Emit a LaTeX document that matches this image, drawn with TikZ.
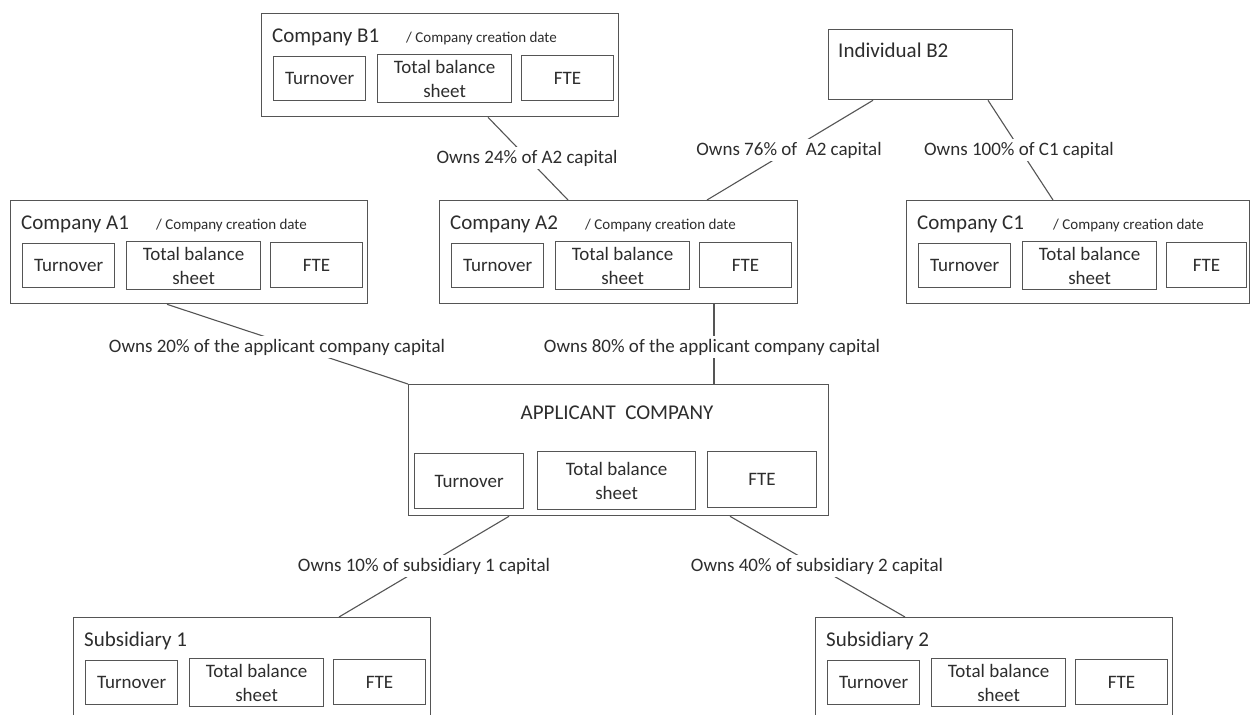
\documentclass[tikz,border=0pt]{standalone}
\usepackage{fontspec}
\setmainfont{Carlito}
\usetikzlibrary{calc}
\definecolor{boxline}{RGB}{85,85,85}
\definecolor{txt}{RGB}{45,45,45}
\tikzset{
  outerbox/.style={draw=boxline, line width=1.3pt, anchor=north west, inner sep=0pt},
  cellbox/.style={draw=boxline, line width=1.2pt, anchor=north west, inner sep=0pt, align=center, text=txt, font=\fontsize{19}{24}\selectfont},
  titletext/.style={anchor=base west, inner sep=0pt, text=txt, font=\fontsize{21}{24}\selectfont},
  datetext/.style={anchor=base west, inner sep=0pt, text=txt, font=\fontsize{15}{18}\selectfont},
  owns/.style={fill=white, inner sep=3pt, text=txt, font=\fontsize{19}{22}\selectfont},
  link/.style={draw=boxline, line width=1.1pt},
}
% #1 name, #2 left, #3 top, #4 title, #5 box width, #6 FTE width
\newcommand\firmbox[6]{%
  \node[outerbox, minimum width=#5pt, minimum height=103pt] (#1) at (#2,#3) {};
  \node[titletext] (#1-title) at (#2+11,#3+29) {#4};
  \node[cellbox, minimum width=92pt, minimum height=44pt] (#1-turn) at (#2+12,#3+43) {Turnover};
  \node[cellbox, minimum width=134pt, minimum height=48pt] (#1-tbs) at (#2+116,#3+41) {Total balance\\sheet};
  \node[cellbox, minimum width=#6pt, minimum height=45pt] (#1-fte) at (#2+260,#3+42) {FTE};
}
\begin{document}
\begin{tikzpicture}[x=1pt,y=-1pt]
\useasboundingbox (0,0) rectangle (1251,715);
\fill[white] (0,0) rectangle (1251,715);

% company boxes
\firmbox{B1}{261}{13}{Company B1}{357}{92}
\node[datetext] (B1-date) at (261+145,13+29) {/ Company creation date};
\firmbox{A1}{10}{200}{Company A1}{357}{92}
\node[datetext] (A1-date) at (10+146,200+29) {/ Company creation date};
\firmbox{A2}{439}{200}{Company A2}{358}{92}
\node[datetext] (A2-date) at (439+146,200+29) {/ Company creation date};
\firmbox{C1}{906}{200}{Company C1}{343}{80}
\node[datetext] (C1-date) at (906+147,200+29) {/ Company creation date};
\firmbox{Sub1}{73}{617}{Subsidiary 1}{357}{92}
\firmbox{Sub2}{815}{617}{Subsidiary 2}{357}{92}

% individual B2
\node[outerbox, minimum width=184pt, minimum height=70pt] (B2) at (828,29) {};
\node[titletext] (B2-title) at (838,57) {Individual B2};

% applicant company
\node[outerbox, minimum width=420pt, minimum height=131pt] (App) at (408,384) {};
\node[text=txt, font=\fontsize{21}{24}\selectfont, inner sep=0pt] (App-title) at (617,413) {APPLICANT\ \ COMPANY};
\node[cellbox, minimum width=109pt, minimum height=55pt] (App-turn) at (414,453) {Turnover};
\node[cellbox, minimum width=158pt, minimum height=58pt] (App-tbs) at (537,451) {Total balance\\sheet};
\node[cellbox, minimum width=109pt, minimum height=56pt] (App-fte) at (707,451) {FTE};

% connectors
\draw[link] ($(B1.south west)+(227,0)$) -- ($(A2.north west)+(129,0)$);
\draw[link] ($(B2.south west)+(45,0)$) -- ($(A2.north west)+(268,0)$);
\draw[link] ($(B2.south west)+(160,0)$) -- ($(C1.north west)+(147,0)$);
\draw[link] ($(A1.south west)+(157,0)$) -- (App.north west);
\draw[link] ($(A2.south west)+(275,0)$) -- ($(App.north west)+(306,0)$);
\draw[link] ($(App.south west)+(101,0)$) -- ($(Sub1.north west)+(266,0)$);
\draw[link] ($(App.south west)+(322,0)$) -- ($(Sub2.north west)+(90,0)$);

% connector labels
\node[owns] (l24) at (527,158) {Owns 24\% of A2 capital};
\node[owns] (l76) at (789,150) {Owns 76\% of\ \ A2 capital};
\node[owns] (l100) at (1019,150) {Owns 100\% of C1 capital};
\node[owns] (l20) at (277,347) {Owns 20\% of the applicant company capital};
\node[owns] (l80) at (712,347) {Owns 80\% of the applicant company capital};
\node[owns] (l10) at (424,566) {Owns 10\% of subsidiary 1 capital};
\node[owns] (l40) at (817,566) {Owns 40\% of subsidiary 2 capital};
\end{tikzpicture}
\end{document}
